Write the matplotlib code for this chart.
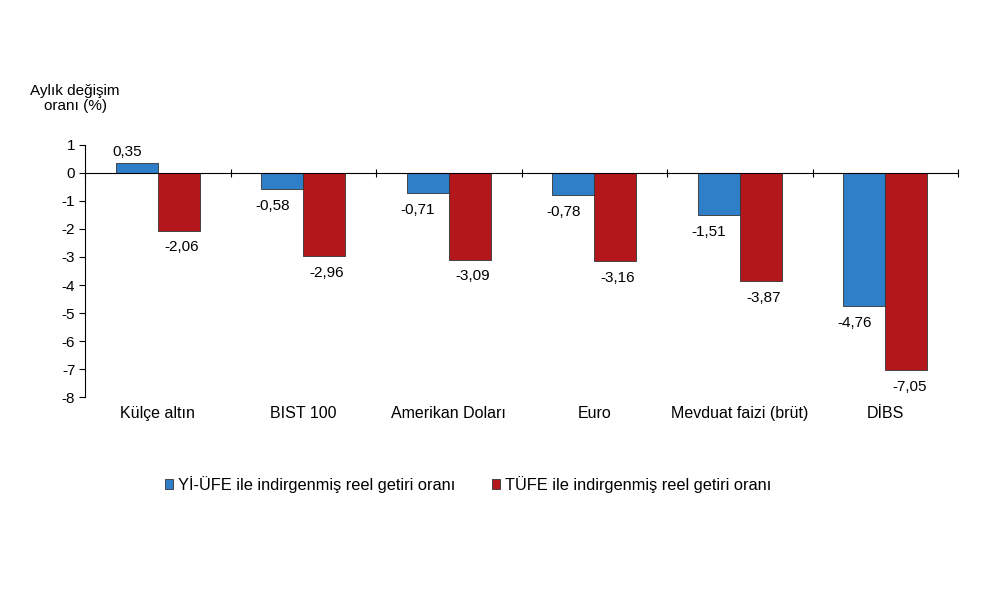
import matplotlib.pyplot as plt
import numpy as np

plt.rcParams["font.family"] = ["Liberation Sans", "DejaVu Sans"]
plt.rcParams["axes.unicode_minus"] = False

# data
kategorie = ["Külçe altın", "BIST 100", "Amerikan Doları", "Euro",
             "Mevduat faizi (brüt)", "DİBS"]
yi_ufe = [0.35, -0.58, -0.71, -0.78, -1.51, -4.76]
tufe = [-2.06, -2.96, -3.09, -3.16, -3.87, -7.05]
nazvy_rad = ["Yİ-ÜFE ile indirgenmiş reel getiri oranı",
             "TÜFE ile indirgenmiş reel getiri oranı"]

modra = "#2F7EC8"
cervena = "#B3171C"

fig = plt.figure(figsize=(10, 5.93), dpi=100)
ax = fig.add_axes([0.085, 0.3305, 0.873, 0.425])

x = np.arange(len(kategorie))
w = 0.29

b1 = ax.bar(x - w/2, yi_ufe, w, color=modra, edgecolor="#333333", linewidth=0.6,
            label=nazvy_rad[0], zorder=2)
b2 = ax.bar(x + w/2, tufe, w, color=cervena, edgecolor="#333333", linewidth=0.6,
            label=nazvy_rad[1], zorder=2)

# popisky hodnot
def popisek(bars, hodnoty, dx):
    for b, v in zip(bars, hodnoty):
        txt = f"{v:.2f}".replace(".", ",")
        cx = b.get_x() + b.get_width()/2
        if v >= 0:
            ax.annotate(txt, (cx, v), xytext=(dx, 3), textcoords="offset points",
                        ha="center", va="bottom", fontsize=11)
        else:
            ax.annotate(txt, (cx, v), xytext=(dx, -7), textcoords="offset points",
                        ha="center", va="top", fontsize=11)

popisek(b1, yi_ufe, -7)
popisek(b2, tufe, 2)

ax.set_xlim(-0.5, len(kategorie) - 0.5)
ax.set_ylim(-8, 1)
ax.set_yticks(np.arange(-8, 2, 1))
ax.set_yticklabels([str(v) for v in range(-8, 2)], fontsize=11)
ax.tick_params(axis="y", direction="out", length=4, width=0.8, pad=3)

# osa x v nule
ax.spines["bottom"].set_position(("data", 0))
ax.spines["top"].set_visible(False)
ax.spines["right"].set_visible(False)
ax.spines["left"].set_linewidth(0.8)
ax.spines["bottom"].set_linewidth(0.8)
ax.set_xticks(np.arange(-0.5, len(kategorie), 1))
ax.set_xticklabels([])
ax.tick_params(axis="x", direction="inout", length=6, width=0.8)

for i, k in enumerate(kategorie):
    ax.text(i, -0.065, k, transform=ax.get_xaxis_transform(),
            ha="center", va="center", fontsize=11.5)

fig.text(0.075, 0.834, "Aylık değişim\noranı (%)", ha="center", va="center",
         fontsize=11, linespacing=1.15)

fig.legend(loc="center", bbox_to_anchor=(0.468, 0.183), ncol=2, frameon=False,
           fontsize=11.8, handlelength=0.5, handleheight=0.5, handletextpad=0.3,
           columnspacing=2.2)

fig.savefig("out.png", dpi=100, facecolor="white")
